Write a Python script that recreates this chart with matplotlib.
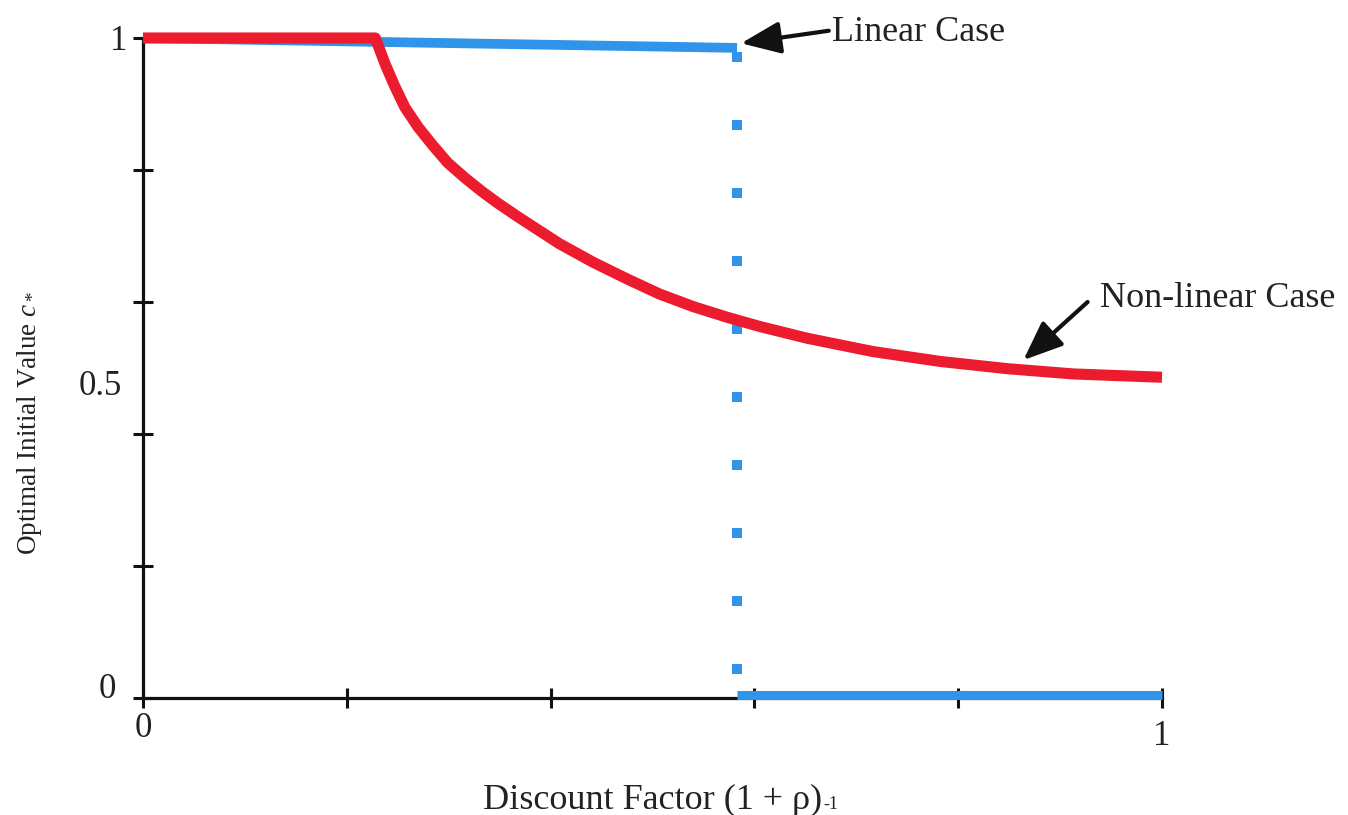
import matplotlib
matplotlib.use("Agg")
import matplotlib.pyplot as plt
from matplotlib import transforms

plt.rcParams['font.family'] = ['Liberation Serif', 'DejaVu Serif']
plt.rcParams['mathtext.fontset'] = 'custom'
plt.rcParams['mathtext.rm'] = 'Liberation Serif'
plt.rcParams['mathtext.it'] = 'Liberation Serif:italic'

# ---- data ----
x_nonlinear = [0.0, 0.228, 0.2375, 0.247, 0.257, 0.270, 0.284, 0.299, 0.316, 0.333,
               0.348, 0.368, 0.409, 0.442, 0.475, 0.507, 0.540, 0.573, 0.605, 0.652,
               0.716, 0.782, 0.848, 0.913, 1.0]
y_nonlinear = [1.0, 1.0, 0.961, 0.927, 0.895, 0.865, 0.838, 0.811, 0.788, 0.767,
               0.750, 0.729, 0.688, 0.660, 0.635, 0.612, 0.593, 0.577, 0.563, 0.545,
               0.525, 0.510, 0.499, 0.491, 0.486]

x_linear_top = [0.0, 0.583]
y_linear_top = [1.0, 0.985]
x_linear_jump = [0.583, 0.583]
y_linear_jump = [0.985, 0.0]
x_linear_bottom = [0.583, 1.0]
y_linear_bottom = [0.0, 0.0]

x_ticks = [0.0, 0.2, 0.4, 0.6, 0.8, 1.0]
x_ticklabels = ['0', '', '', '', '', '1']
y_ticks = [0.0, 0.2, 0.4, 0.6, 0.8, 1.0]
y_ticklabels = ['0', '', '', '', '', '1']
y_mid_tick = [0.5]
y_mid_label = ['0.5']

RED = '#EC1B2E'
BLUE = '#2F94EA'

W, H = 1348, 815
fig = plt.figure(figsize=(W / 100, H / 100), dpi=100)
ax = fig.add_axes([143 / W, 1 - 698 / H, 1019 / W, 660 / H])
ax.set_xlim(0, 1)
ax.set_ylim(0, 1)

for s in ['top', 'right']:
    ax.spines[s].set_visible(False)
for s in ['left', 'bottom']:
    ax.spines[s].set_linewidth(2.3)
    ax.spines[s].set_color('#111111')
    ax.spines[s].set_zorder(2)

# linear case
ax.plot(x_linear_top, y_linear_top, color=BLUE, lw=7, solid_capstyle='butt',
        clip_on=False, zorder=3)
ax.plot(x_linear_jump, y_linear_jump, color=BLUE, lw=7.2,
        linestyle=(6.4, (1.0, 5.8)), dash_capstyle='butt', clip_on=False, zorder=3)
shift_up = transforms.offset_copy(ax.transData, fig=fig, x=0, y=3, units='dots')
ax.plot(x_linear_bottom, y_linear_bottom, color=BLUE, lw=6.5, solid_capstyle='butt',
        clip_on=False, zorder=3, transform=shift_up)

# non-linear case
ax.plot(x_nonlinear, y_nonlinear, color=RED, lw=8, solid_capstyle='butt',
        solid_joinstyle='round', clip_on=False, zorder=4)

# ticks
ax.set_xticks(x_ticks, x_ticklabels)
ax.set_yticks(y_ticks, y_ticklabels)
ax.tick_params(axis='both', which='major', direction='inout', length=14,
               width=2.2, color='#111111', labelsize=25, labelcolor='#222222')
ax.tick_params(axis='y', which='major', pad=4)
ax.tick_params(axis='x', which='major', pad=3)
ax.set_yticks(y_mid_tick, y_mid_label, minor=True)
ax.tick_params(axis='y', which='minor', length=0, pad=15, labelsize=25,
               labelcolor='#222222')
for lab in ax.yaxis.get_minorticklabels():
    lab.set_transform(lab.get_transform() +
                      transforms.ScaledTranslation(0, -0.14, fig.dpi_scale_trans))
ylabs = ax.yaxis.get_majorticklabels()
ylabs[0].set_transform(ylabs[0].get_transform() +
                       transforms.ScaledTranslation(-0.12, 0.12, fig.dpi_scale_trans))
xlabs = ax.xaxis.get_majorticklabels()
xlabs[-1].set_transform(xlabs[-1].get_transform() +
                        transforms.ScaledTranslation(0, -0.08, fig.dpi_scale_trans))

# axis labels
xl = ax.text((483 - 143) / 1019, (698 - 800) / 660, 'Discount Factor (1 + ρ)',
             transform=ax.transAxes, ha='left', va='center', fontsize=26,
             color='#222222')
ax.annotate('-1', xy=(1, 0.12), xycoords=xl, xytext=(1, 0), textcoords='offset points',
            ha='left', va='bottom', fontsize=13, color='#222222')
fig.text(30 / W, 1 - 423 / H, r'Optimal Initial Value $c_*$', rotation=90,
         ha='center', va='center', fontsize=19.5, color='#222222')

# annotations
arrow_kw = dict(arrowstyle='-|>,head_length=1.1,head_width=0.45', color='#111111',
                lw=3, mutation_scale=22, shrinkA=0, shrinkB=0)
ax.annotate('', xy=(0.587, 0.992), xytext=(0.673, 1.011), arrowprops=arrow_kw,
            annotation_clip=False)
ax.text(0.676, 1.009, 'Linear Case', ha='left', va='center', fontsize=26,
        color='#222222', clip_on=False)
ax.annotate('', xy=(0.864, 0.512), xytext=(0.927, 0.600), arrowprops=arrow_kw,
            annotation_clip=False)
ax.text(0.939, 0.605, 'Non-linear Case', ha='left', va='center', fontsize=26,
        color='#222222', clip_on=False)

fig.savefig('out.png', dpi=100)
